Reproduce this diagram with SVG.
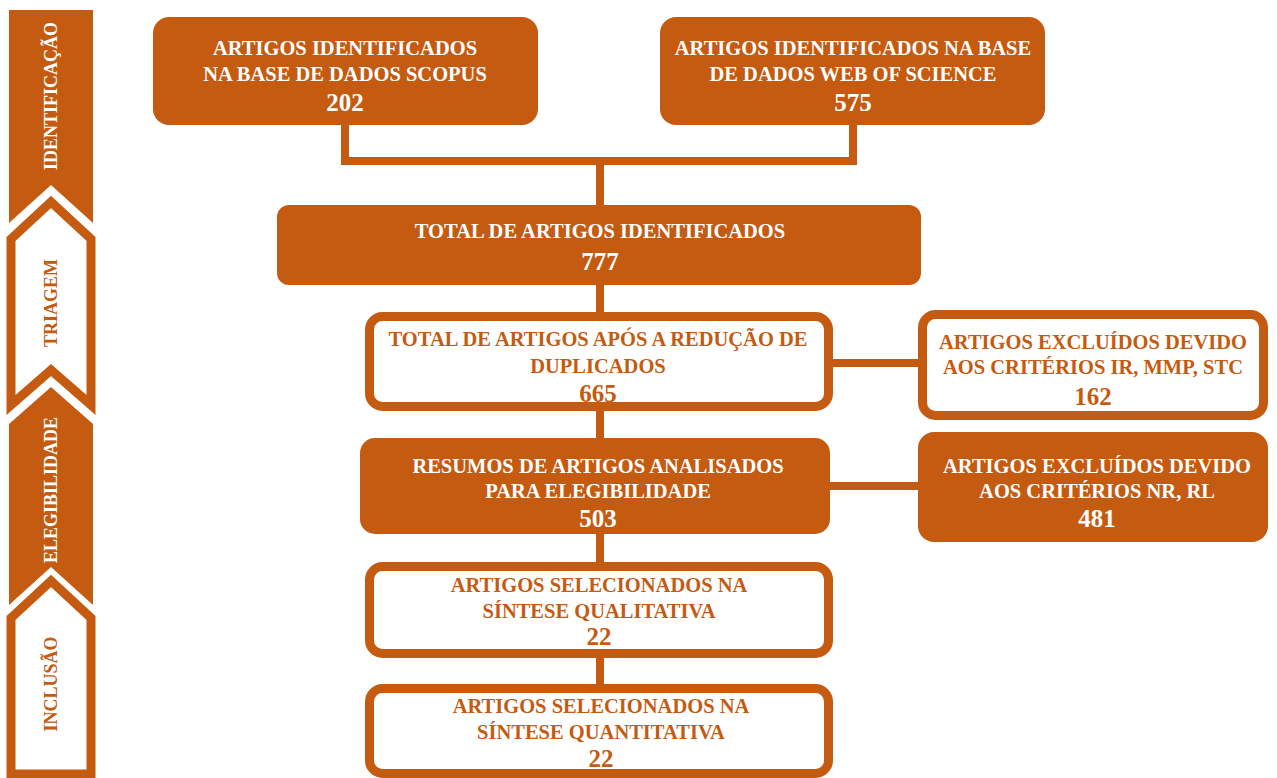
<svg xmlns="http://www.w3.org/2000/svg" width="1277" height="778" viewBox="0 0 1277 778">
<style>
.fill{fill:#C55A11;}
.out{fill:#FFFFFF;stroke:#C55A11;stroke-width:9;}
.conn{fill:none;stroke:#C55A11;stroke-width:8;}
.t{font-family:"Liberation Serif","Times New Roman",serif;font-weight:bold;font-size:20.5px;text-anchor:middle;}
.n{font-family:"Liberation Serif","Times New Roman",serif;font-weight:bold;font-size:25px;text-anchor:middle;}
.s{font-family:"Liberation Serif","Times New Roman",serif;font-weight:bold;font-size:18px;text-anchor:middle;}
.w{fill:#FFFFFF;}
.o{fill:#C55A11;}
</style>
<rect x="0" y="0" width="1277" height="778" fill="#FFFFFF"/>

<g id="stages">
  <g id="stage-identificacao">
    <polygon class="fill" points="9,10 93,10 93,223 51,185 9,223"/>
    <text class="s w" transform="translate(57,96) rotate(-90)">IDENTIFICAÇÃO</text>
  </g>
  <g id="stage-triagem">
    <polygon class="out" points="11,239 51,202 91,239 91,405 51,370 11,405"/>
    <text class="s o" transform="translate(57,303) rotate(-90)">TRIAGEM</text>
  </g>
  <g id="stage-elegibilidade">
    <polygon class="fill" points="9,424 51,387 93,424 93,605 51,567 9,605"/>
    <text class="s w" transform="translate(57,490) rotate(-90)">ELEGIBILIDADE</text>
  </g>
  <g id="stage-inclusao">
    <polygon class="out" points="11,618 51,581 91,618 91,774 11,774"/>
    <text class="s o" transform="translate(57,684) rotate(-90)">INCLUSÃO</text>
  </g>
</g>

<g id="connectors">
  <polyline class="conn" points="345,125 345,161 853,161 853,125"/>
  <line class="conn" x1="600" y1="161" x2="600" y2="205"/>
  <line class="conn" x1="600" y1="285" x2="600" y2="314"/>
  <line class="conn" x1="829" y1="363" x2="920" y2="363"/>
  <line class="conn" x1="600" y1="410" x2="600" y2="440"/>
  <line class="conn" x1="829" y1="486" x2="920" y2="486"/>
  <line class="conn" x1="600" y1="534" x2="600" y2="565"/>
  <line class="conn" x1="600" y1="656" x2="600" y2="687"/>
</g>

<g id="node-scopus">
  <rect class="fill" x="153" y="17" width="385" height="108" rx="16"/>
  <text class="t w" x="345" y="55">ARTIGOS IDENTIFICADOS</text>
  <text class="t w" x="345" y="81">NA BASE DE DADOS SCOPUS</text>
  <text class="n w" x="345" y="111">202</text>
</g>

<g id="node-wos">
  <rect class="fill" x="660" y="17" width="385" height="108" rx="16"/>
  <text class="t w" x="853" y="55">ARTIGOS IDENTIFICADOS NA BASE</text>
  <text class="t w" x="853" y="81">DE DADOS WEB OF SCIENCE</text>
  <text class="n w" x="853" y="111">575</text>
</g>

<g id="node-total">
  <rect class="fill" x="277" y="205" width="644" height="80" rx="12"/>
  <text class="t w" x="600" y="238">TOTAL DE ARTIGOS IDENTIFICADOS</text>
  <text class="n w" x="600" y="270">777</text>
</g>

<g id="node-duplicados">
  <rect class="out" x="369.5" y="316.5" width="459" height="90" rx="13"/>
  <text class="t o" x="598" y="346">TOTAL DE ARTIGOS APÓS A REDUÇÃO DE</text>
  <text class="t o" x="598" y="373">DUPLICADOS</text>
  <text class="n o" x="598" y="402">665</text>
</g>

<g id="node-excluidos-1">
  <rect class="out" x="922.5" y="314.5" width="341" height="101" rx="13"/>
  <text class="t o" x="1093" y="349">ARTIGOS EXCLUÍDOS DEVIDO</text>
  <text class="t o" x="1093" y="374">AOS CRITÉRIOS IR, MMP, STC</text>
  <text class="n o" x="1093" y="405">162</text>
</g>

<g id="node-resumos">
  <rect class="fill" x="360" y="438" width="470" height="96" rx="15"/>
  <text class="t w" x="598" y="473">RESUMOS DE ARTIGOS ANALISADOS</text>
  <text class="t w" x="598" y="498">PARA ELEGIBILIDADE</text>
  <text class="n w" x="598" y="527">503</text>
</g>

<g id="node-excluidos-2">
  <rect class="fill" x="918" y="432" width="350" height="110" rx="16"/>
  <text class="t w" x="1097" y="473">ARTIGOS EXCLUÍDOS DEVIDO</text>
  <text class="t w" x="1097" y="498">AOS CRITÉRIOS NR, RL</text>
  <text class="n w" x="1097" y="527">481</text>
</g>

<g id="node-qualitativa">
  <rect class="out" x="369.5" y="566.5" width="459" height="87" rx="13"/>
  <text class="t o" x="599" y="592">ARTIGOS SELECIONADOS NA</text>
  <text class="t o" x="599" y="618">SÍNTESE QUALITATIVA</text>
  <text class="n o" x="599" y="645">22</text>
</g>

<g id="node-quantitativa">
  <rect class="out" x="369.5" y="688.5" width="459" height="85" rx="13"/>
  <text class="t o" x="601" y="713">ARTIGOS SELECIONADOS NA</text>
  <text class="t o" x="601" y="739">SÍNTESE QUANTITATIVA</text>
  <text class="n o" x="601" y="767">22</text>
</g>
</svg>
